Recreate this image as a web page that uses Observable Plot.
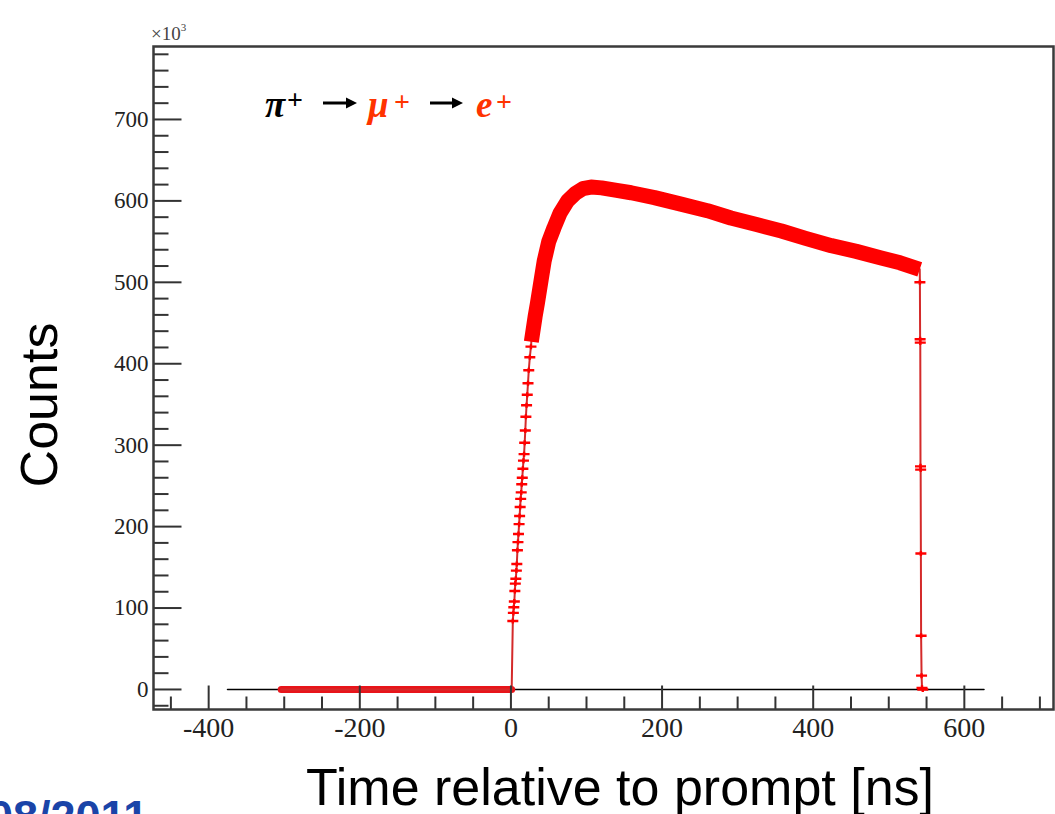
<!DOCTYPE html>
<html><head><meta charset="utf-8">
<script src="https://cdn.jsdelivr.net/npm/d3@7"></script>
<script src="https://cdn.jsdelivr.net/npm/@observablehq/plot@0.6"></script>
<style>
body{margin:0;background:#fff;overflow:hidden}
#chart{position:relative;width:1055px;height:814px;overflow:hidden}
#chart svg{overflow:hidden}
</style>
</head><body><div id="chart"></div>
<script>
// ---- data (time in ns, counts in units of 10^3) ----
const baseTime = [-375, 626];
const baseCount = [0, 0];
const flatTime = [-304, 1];
const flatCount = [0, 0];
const riseTime = [2.5, 3.2, 3.8, 4.5, 5.2, 5.8, 6.5, 7.2, 7.8, 8.6, 9.3, 10.0, 10.8, 11.5, 12.2, 12.9, 13.6, 14.3, 15.0, 15.8, 16.6, 17.4, 18.2, 19.0, 19.8, 20.7, 21.6, 22.6, 23.6, 25.0, 26.5, 28.0, 30.0, 32.0];
const riseCount = [84, 94, 101, 108, 121, 130, 136, 146, 154, 171, 181, 191, 203, 213, 224, 234, 242, 252, 260, 271, 281, 289, 303, 318, 335, 349, 362, 376, 392, 408, 421, 433, 446, 458];
const bandTime = [27, 32, 35, 40, 44, 50, 57, 65, 75, 85, 95, 106, 120, 140, 159, 190, 225, 260, 291, 325, 358, 390, 424, 457, 490, 515, 541];
const bandCount = [427, 458, 474, 503, 526, 550, 567, 585, 600, 609, 615, 617, 616, 613, 610, 604, 596, 588, 579, 571, 563, 554, 545, 538, 530, 524, 516];
const dropTime = [541.2, 541.5, 541.7, 542.0, 542.2, 542.5, 542.8, 543.4, 544.0, 545.0];
const dropCount = [500, 430, 426, 274, 270, 167, 66, 17, 2, 0];
const xMajorTicks = [-400, -200, 0, 200, 400, 600];
const xMinorTicks = [-450, -350, -300, -250, -150, -100, -50, 50, 100, 150, 250, 300, 350, 450, 500, 550, 650, 700];
const yMajorTicks = [0, 100, 200, 300, 400, 500, 600, 700];
const yMinorTicks = [-20, 20, 40, 60, 80, 120, 140, 160, 180, 220, 240, 260, 280, 320, 340, 360, 380, 420, 440, 460, 480, 520, 540, 560, 580, 620, 640, 660, 680, 720, 740, 760, 780];

const pts = (t, c) => t.map((x, i) => ({t: x, c: c[i]}));
const base = pts(baseTime, baseCount);
const flat = pts(flatTime, flatCount);
const rise = pts(riseTime, riseCount);
const band = pts(bandTime, bandCount);
const drop = pts(dropTime, dropCount);
const all = [...flat, ...rise.filter(d => d.t < 27), ...band, ...drop];

const plusSym = {draw(ctx){ ctx.moveTo(-5.5,0); ctx.lineTo(5.5,0); ctx.moveTo(0,-2.5); ctx.lineTo(0,2.5); }};
const tickR = len => ({draw(ctx){ ctx.moveTo(0,0); ctx.lineTo(len,0); }});
const tickU = len => ({draw(ctx){ ctx.moveTo(0,0); ctx.lineTo(0,-len); }});
const fmt = d => d < 0 ? "-" + Math.abs(d) : String(d);
const serif = "'Liberation Serif', 'DejaVu Serif', serif";
const red = "#ff0000";

const chart = Plot.plot({
  width: 1055, height: 814,
  marginLeft: 153, marginRight: 2, marginTop: 46, marginBottom: 105,
  style: {background: "#fff"},
  x: {domain: [-473, 718]},
  y: {domain: [-24.6, 789.6]},
  marks: [
    Plot.line(base, {x: "t", y: "c", stroke: "#000", strokeWidth: 1.6}),
    Plot.line(flat, {x: "t", y: "c", stroke: "#e8141a", strokeWidth: 7, strokeLinecap: "round"}),
    Plot.line(all, {x: "t", y: "c", stroke: "#d42a2a", strokeWidth: 2}),
    Plot.line(band, {x: "t", y: "c", stroke: red, strokeWidth: 15, strokeLinejoin: "round", strokeLinecap: "butt"}),
    Plot.dot(rise, {x: "t", y: "c", symbol: plusSym, fill: "none", stroke: red, strokeWidth: 2.4, r: 3}),
    Plot.dot(drop, {x: "t", y: "c", symbol: plusSym, fill: "none", stroke: red, strokeWidth: 2.4, r: 3}),
    Plot.dot(yMajorTicks, {y: d => d, frameAnchor: "left", symbol: tickR(28), fill: "none", stroke: "#333", strokeWidth: 2, r: 1}),
    Plot.dot(yMinorTicks, {y: d => d, frameAnchor: "left", symbol: tickR(15), fill: "none", stroke: "#333", strokeWidth: 2, r: 1}),
    Plot.dot(xMajorTicks, {x: d => d, frameAnchor: "bottom", symbol: tickU(24), fill: "none", stroke: "#333", strokeWidth: 2, r: 1}),
    Plot.dot(xMinorTicks, {x: d => d, frameAnchor: "bottom", symbol: tickU(13), fill: "none", stroke: "#333", strokeWidth: 2, r: 1}),
    Plot.axisY({ticks: yMajorTicks, tickSize: 0, tickPadding: 5, fontSize: 23, fontFamily: serif, fill: "#222", tickFormat: fmt, label: null}),
    Plot.axisX({ticks: xMajorTicks, tickSize: 0, tickPadding: 8, fontSize: 28, fontFamily: serif, fill: "#222", tickFormat: fmt, label: null}),
    Plot.frame({stroke: "#3a3a3a", strokeWidth: 2.5})
  ]
});
document.getElementById("chart").appendChild(chart);

const svg = d3.select(chart);
// x10^3 multiplier
const m = svg.append("text").attr("x", 151).attr("y", 40).attr("text-anchor", "start")
  .attr("font-family", serif).attr("font-size", 19).attr("fill", "#444");
m.append("tspan").text("×10");
m.append("tspan").attr("dy", -9).attr("font-size", 11).text("3");

// decay annotation
const orange = "#ff3300";
const ann = [
  {s: "π", x: 265, y: 117, size: 37, c: "#000", it: true},
  {s: "+", x: 287, y: 109, size: 28, c: "#000", it: false},
  {s: "μ", x: 368, y: 117, size: 37, c: orange, it: true},
  {s: "+", x: 394, y: 111, size: 28, c: orange, it: false},
  {s: "e", x: 476, y: 117, size: 37, c: orange, it: true},
  {s: "+", x: 496, y: 111, size: 28, c: orange, it: false}
];
for (const a of ann) {
  svg.append("text").attr("x", a.x).attr("y", a.y).attr("text-anchor", "start").attr("font-family", serif)
    .attr("font-weight", "bold").attr("font-style", a.it ? "italic" : "normal")
    .attr("font-size", a.size).attr("fill", a.c).text(a.s);
}
for (const [x0, x1] of [[323, 357], [430, 463]]) {
  svg.append("line").attr("x1", x0).attr("x2", x1 - 8).attr("y1", 103).attr("y2", 103)
    .attr("stroke", "#000").attr("stroke-width", 3);
  svg.append("path").attr("d", `M${x1},103 L${x1 - 11},97.5 L${x1 - 11},108.5 Z`).attr("fill", "#000");
}

// axis titles
const sans = "'Liberation Sans', Arial, Helvetica, sans-serif";
svg.append("text").attr("x", 620).attr("y", 805).attr("text-anchor", "middle")
  .attr("font-family", sans).attr("font-size", 52).attr("fill", "#000").text("Time relative to prompt [ns]");
svg.append("text").attr("transform", "translate(57,405) rotate(-90)").attr("text-anchor", "middle")
  .attr("font-family", sans).attr("font-size", 52).attr("fill", "#000").text("Counts");
svg.append("text").attr("x", -12).attr("y", 832).attr("text-anchor", "start")
  .attr("font-family", sans).attr("font-weight", "bold").attr("font-size", 45).attr("fill", "#1a44a8").text("08/2011");
</script>
</body></html>
